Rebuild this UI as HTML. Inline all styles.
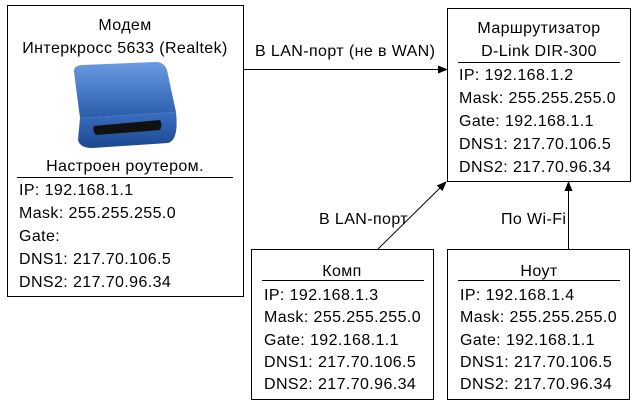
<!DOCTYPE html>
<html><head><meta charset="utf-8"><style>
html,body{margin:0;padding:0;background:#fff;width:639px;height:405px;overflow:hidden}
svg text{font-family:"Liberation Sans",sans-serif;font-size:16px;letter-spacing:0.4px;fill:#000}
</style></head><body>
<svg width="639" height="405" xmlns="http://www.w3.org/2000/svg">
<defs>
<marker id="ah" markerWidth="10" markerHeight="8" refX="9" refY="4" orient="auto" markerUnits="userSpaceOnUse">
<path d="M0,0 L10,4 L0,8 z" fill="#000"/></marker>
<linearGradient id="bl" x1="0" y1="0" x2="0" y2="1"><stop offset="0" stop-color="#6a9ae0"/><stop offset="1" stop-color="#2a5cab"/></linearGradient>
<linearGradient id="bf" x1="0" y1="0" x2="0" y2="1"><stop offset="0" stop-color="#3b6fc2"/><stop offset="1" stop-color="#1c4790"/></linearGradient>
</defs>
<!-- Modem box -->
<rect x="7.5" y="5.5" width="236" height="291" fill="#fff" stroke="#000"/>
<text x="125" y="30" text-anchor="middle">Модем</text>
<text x="125" y="53" text-anchor="middle">Интеркросс 5633 (Realtek)</text>
<path d="M74,72 Q73,66 82,65 L156,62 Q164,62 167,70 L176,112 L80,118 Z" fill="url(#bl)"/>
<path d="M80,118 L176,112 Q179,140 168,143 L92,148 Q80,148 78,140 Z" fill="url(#bf)"/>
<path d="M94,126 L160,120 Q163,125 160,130 L96,135 Q92,131 94,126 Z" fill="#111"/>
<text x="125" y="171" text-anchor="middle">Настроен роутером.</text>
<line x1="17" y1="177.5" x2="233" y2="177.5" stroke="#000"/>
<text x="19" y="195">IP: 192.168.1.1</text>
<text x="19" y="218">Mask: 255.255.255.0</text>
<text x="19" y="241">Gate:</text>
<text x="19" y="264">DNS1: 217.70.106.5</text>
<text x="19" y="287">DNS2: 217.70.96.34</text>
<!-- Router -->
<rect x="447.5" y="8.5" width="183" height="173" fill="#fff" stroke="#000"/>
<text x="539" y="33" text-anchor="middle">Маршрутизатор</text>
<text x="539" y="56" text-anchor="middle">D-Link DIR-300</text>
<line x1="458" y1="62.5" x2="620" y2="62.5" stroke="#000"/>
<text x="459" y="80">IP: 192.168.1.2</text>
<text x="459" y="103">Mask: 255.255.255.0</text>
<text x="459" y="126">Gate: 192.168.1.1</text>
<text x="459" y="149">DNS1: 217.70.106.5</text>
<text x="459" y="172">DNS2: 217.70.96.34</text>
<!-- Komp -->
<rect x="251.5" y="249.5" width="182" height="150" fill="#fff" stroke="#000"/>
<text x="342" y="276" text-anchor="middle">Комп</text>
<line x1="262" y1="280.5" x2="424" y2="280.5" stroke="#000"/>
<text x="264" y="300">IP: 192.168.1.3</text>
<text x="264" y="322">Mask: 255.255.255.0</text>
<text x="264" y="345">Gate: 192.168.1.1</text>
<text x="264" y="367">DNS1: 217.70.106.5</text>
<text x="264" y="389">DNS2: 217.70.96.34</text>
<!-- Nout -->
<rect x="447.5" y="249.5" width="182" height="150" fill="#fff" stroke="#000"/>
<text x="539" y="276" text-anchor="middle">Ноут</text>
<line x1="458" y1="280.5" x2="620" y2="280.5" stroke="#000"/>
<text x="460" y="300">IP: 192.168.1.4</text>
<text x="460" y="322">Mask: 255.255.255.0</text>
<text x="460" y="345">Gate: 192.168.1.1</text>
<text x="460" y="367">DNS1: 217.70.106.5</text>
<text x="460" y="389">DNS2: 217.70.96.34</text>
<!-- arrows -->
<line x1="243" y1="69.5" x2="447" y2="69.5" stroke="#000" marker-end="url(#ah)"/>
<text x="255" y="56">В LAN-порт (не в WAN)</text>
<line x1="378" y1="249" x2="446" y2="182" stroke="#000" marker-end="url(#ah)"/>
<text x="319" y="224">В LAN-порт</text>
<line x1="568.5" y1="249" x2="568.5" y2="182" stroke="#000" marker-end="url(#ah)"/>
<text x="501" y="224">По Wi-Fi</text>
</svg>
</body></html>
